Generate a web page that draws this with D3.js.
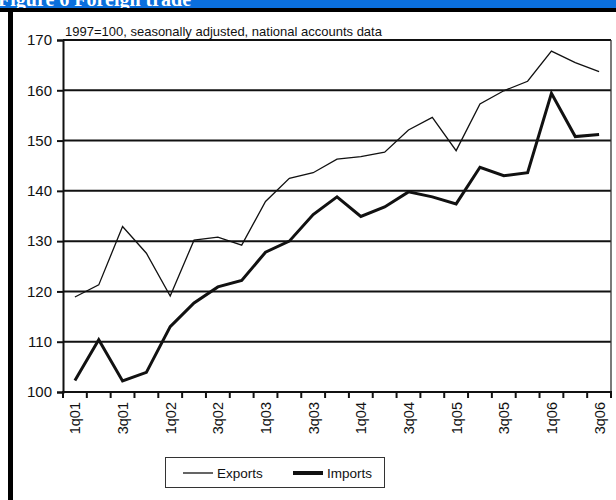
<!DOCTYPE html>
<meta charset="utf-8">
<script src="https://d3js.org/d3.v7.min.js"></script>
<style>
    body { margin: 0; background: #fff; }
    text { font-family: "Liberation Sans", Arial, sans-serif; fill: #111; }
</style>
<body>
<script>
    var quarters = ["1q01", "2q01", "3q01", "4q01", "1q02", "2q02", "3q02", "4q02",
        "1q03", "2q03", "3q03", "4q03", "1q04", "2q04", "3q04", "4q04",
        "1q05", "2q05", "3q05", "4q05", "1q06", "2q06", "3q06"];
    var exports = [118.9, 121.3, 132.9, 127.6, 119.1, 130.2, 130.8, 129.2,
        137.9, 142.5, 143.6, 146.3, 146.8, 147.7, 152.1, 154.6,
        148.0, 157.3, 159.9, 161.8, 167.8, 165.5, 163.7];
    var imports = [102.3, 110.4, 102.2, 103.9, 113.0, 117.7, 120.9, 122.2,
        127.8, 130.0, 135.3, 138.8, 134.9, 136.8, 139.8, 138.8,
        137.4, 144.7, 143.0, 143.6, 159.4, 150.8, 151.2];
    var yTicks = [100, 110, 120, 130, 140, 150, 160, 170];
    var title = "Figure 6 Foreign trade";
    var subtitle = "1997=100, seasonally adjusted, national accounts data";

    var W = 616, H = 500;
    var plot = { left: 63, right: 611, top: 40, bottom: 392 };

    var svg = d3.select("body").append("svg")
        .attr("width", W)
        .attr("height", H);

    // header bar and frame
    svg.append("rect").attr("x", 0).attr("y", 0).attr("width", W).attr("height", 8).attr("fill", "#0b6fdc");
    svg.append("text")
        .attr("x", -2).attr("y", 6)
        .style("font-family", "'Liberation Serif', serif")
        .style("font-weight", "bold")
        .style("font-size", "20px")
        .style("fill", "#fff")
        .text(title);
    svg.append("rect").attr("x", 0).attr("y", 8).attr("width", W).attr("height", 4).attr("fill", "#000");
    svg.append("rect").attr("x", 8).attr("y", 8).attr("width", 5).attr("height", H).attr("fill", "#000");

    var x = d3.scaleBand()
        .domain(quarters)
        .range([plot.left, plot.right]);

    var y = d3.scaleLinear()
        .domain([100, 170])
        .range([plot.bottom, plot.top]);

    // gridlines
    svg.append("g")
        .selectAll("line")
        .data(yTicks.slice(1))
        .enter().append("line")
        .attr("x1", plot.left).attr("x2", plot.right)
        .attr("y1", function (d) { return y(d); })
        .attr("y2", function (d) { return y(d); })
        .attr("stroke", "#111")
        .attr("stroke-width", 2);

    // right border
    svg.append("line")
        .attr("x1", plot.right).attr("x2", plot.right)
        .attr("y1", plot.top).attr("y2", plot.bottom)
        .attr("stroke", "#333").attr("stroke-width", 1.3);

    // y axis
    var yAxis = svg.append("g")
        .attr("transform", "translate(" + plot.left + ",0)")
        .call(d3.axisLeft(y).tickValues(yTicks).tickSize(6).tickPadding(5));
    yAxis.select(".domain").attr("stroke", "#111").attr("stroke-width", 2);
    yAxis.selectAll(".tick line").attr("stroke", "#111").attr("stroke-width", 2);
    yAxis.selectAll("text").style("font-size", "15px").attr("fill", "#222");

    // x axis: ticks at category boundaries
    var bounds = quarters.map(function (q) { return x(q); }).concat([plot.right]);
    svg.append("line")
        .attr("x1", plot.left - 1).attr("x2", plot.right + 1)
        .attr("y1", plot.bottom).attr("y2", plot.bottom)
        .attr("stroke", "#111").attr("stroke-width", 2);
    svg.append("g")
        .selectAll("line")
        .data(bounds)
        .enter().append("line")
        .attr("x1", function (d) { return d; })
        .attr("x2", function (d) { return d; })
        .attr("y1", plot.bottom).attr("y2", plot.bottom + 6)
        .attr("stroke", "#111").attr("stroke-width", 2);

    svg.append("g")
        .selectAll("text")
        .data(quarters.filter(function (q, i) { return i % 2 === 0; }))
        .enter().append("text")
        .attr("transform", function (d) {
            return "translate(" + (x(d) + x.bandwidth() / 2 + 5.5) + "," + (plot.bottom + 10) + ") rotate(-90)";
        })
        .style("text-anchor", "end")
        .style("font-size", "14.5px")
        .attr("fill", "#222")
        .text(String);

    // lines
    var line = d3.line()
        .x(function (d, i) { return x(quarters[i]) + x.bandwidth() / 2; })
        .y(function (d) { return y(d); });

    svg.append("path")
        .datum(exports)
        .attr("d", line)
        .attr("fill", "none")
        .attr("stroke", "#111")
        .attr("stroke-width", 1.3);

    svg.append("path")
        .datum(imports)
        .attr("d", line)
        .attr("fill", "none")
        .attr("stroke", "#111")
        .attr("stroke-width", 3)
        .attr("stroke-linejoin", "miter");

    // subtitle
    svg.append("text")
        .attr("x", 65).attr("y", 36)
        .style("font-size", "13px")
        .text(subtitle);

    // legend
    var legend = svg.append("g");
    legend.append("rect")
        .attr("x", 165.5).attr("y", 457.5)
        .attr("width", 219).attr("height", 30)
        .attr("fill", "#fff")
        .attr("stroke", "#333").attr("stroke-width", 1);
    var items = [["Exports", 1.3, 183], ["Imports", 4, 293]];
    items.forEach(function (it) {
        legend.append("line")
            .attr("x1", it[2]).attr("x2", it[2] + 30)
            .attr("y1", 473).attr("y2", 473)
            .attr("stroke", "#111").attr("stroke-width", it[1]);
        legend.append("text")
            .attr("x", it[2] + 34).attr("y", 478)
            .style("font-size", "13.5px")
            .text(it[0]);
    });
</script>
</body>
